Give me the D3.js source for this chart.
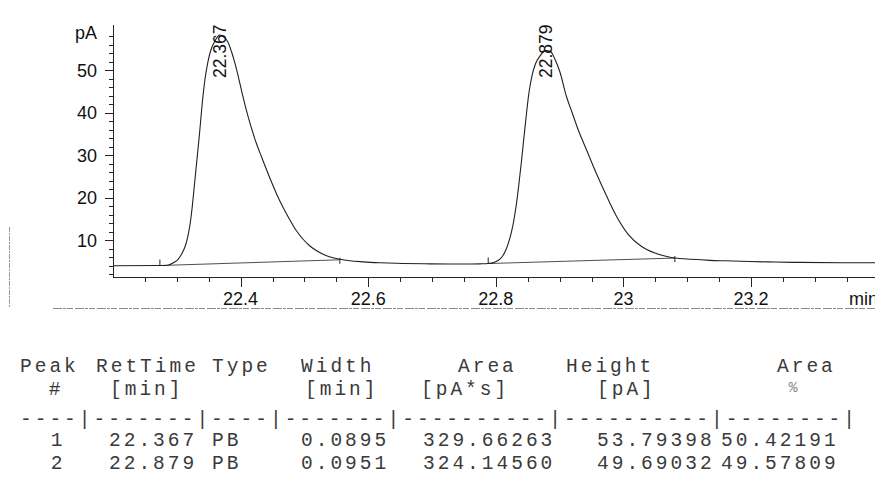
<!DOCTYPE html>
<html>
<head>
<meta charset="utf-8">
<script src="https://cdn.jsdelivr.net/npm/d3@7"></script>
<style>
  html, body { margin: 0; padding: 0; background: #fff; }
  svg { display: block; }
</style>
</head>
<body>
<svg id="chart" width="875" height="481"></svg>
<script>
// FID trace: retention time (min) and detector response (pA)
const signalTime = [
  22.2000, 22.2735, 22.2860, 22.2955, 22.3017, 22.3080, 22.3127, 22.3174,
  22.3213, 22.3245, 22.3276, 22.3315, 22.3354, 22.3401, 22.3440, 22.3487,
  22.3534, 22.3597, 22.3670, 22.3738, 22.3801, 22.3859, 22.3911, 22.3962,
  22.4020, 22.4094, 22.4161, 22.4251, 22.4329, 22.4408, 22.4491, 22.4585,
  22.4679, 22.4773, 22.4867, 22.4976, 22.5086, 22.5212, 22.5337, 22.5462,
  22.5556, 22.5713, 22.5917, 22.6183, 22.6450, 22.6967, 22.7484, 22.7751,
  22.7881, 22.7970, 22.8033, 22.8096, 22.8150, 22.8197, 22.8245, 22.8284,
  22.8323, 22.8362, 22.8401, 22.8440, 22.8480, 22.8519, 22.8566, 22.8621,
  22.8691, 22.8790, 22.8864, 22.8926, 22.9005, 22.9110, 22.9193, 22.9287,
  22.9423, 22.9580, 22.9737, 22.9898, 23.0071, 23.0285, 23.0494, 23.0650,
  23.0807, 23.1069, 23.1356, 23.1591, 23.1983, 23.2375, 23.2767, 23.3425,
  23.4000
];
const signalPA = [
   3.95,  4.00,  4.07,  4.71,  5.41,  6.82,  8.35, 10.94,
  14.24, 18.24, 22.94, 28.82, 34.71, 42.47, 47.65, 51.88,
  54.71, 56.82, 58.24, 57.76, 56.59, 54.24, 51.65, 48.59,
  44.82, 40.35, 36.82, 32.59, 29.53, 26.47, 23.41, 20.12,
  17.29, 14.71, 12.35, 10.24,  8.59,  7.29,  6.35,  5.76,
   5.46,  5.11,  4.87,  4.66,  4.52,  4.40,  4.35,  4.40,
   4.47,  4.71,  5.18,  6.00,  7.41,  9.29, 11.88, 14.71,
  18.47, 23.18, 28.35, 34.00, 39.65, 44.59, 48.59, 51.41,
  53.29, 54.56, 54.24, 52.59, 49.53, 43.65, 40.12, 36.12,
  31.18, 25.53, 20.35, 15.41, 11.41,  8.47,  6.94,  6.24,
   5.76,  5.46,  5.22,  5.11,  4.94,  4.82,  4.73,  4.66,
   4.64
];

// Integration results
const peakNumber  = [1, 2];
const retTime     = [22.367, 22.879];
const peakType    = ["PB", "PB"];
const peakWidth   = ["0.0895", "0.0951"];
const peakArea    = ["329.66263", "324.14560"];
const peakHeight  = ["53.79398", "49.69032"];
const areaPercent = ["50.42191", "49.57809"];

// Integration baselines drawn under each peak
const baseStartTime = [22.2735, 22.7881];
const baseStartPA   = [4.00, 4.47];
const baseEndTime   = [22.5556, 23.0807];
const baseEndPA     = [5.35, 5.76];

// Axis ticks
const xTickValues = [22.4, 22.6, 22.8, 23, 23.2];
const yTickValues = [10, 20, 30, 40, 50];

const svg = d3.select("#chart");
const ink = "#262626";
const sans = "'Liberation Sans', Arial, sans-serif";
const mono = "'Liberation Mono', 'Courier New', monospace";

const plot = { left: 113, top: 25, bottom: 277 };
const x = d3.scaleLinear().domain([22.2, 23.4]).range([plot.left, plot.left + 638 * 1.2]);
const y = d3.scaleLinear().domain([1.3, 60.6]).range([plot.bottom, plot.top]);

// faint frame of the report page
svg.append("line")
  .attr("x1", 9.5).attr("x2", 9.5).attr("y1", 227).attr("y2", 308)
  .attr("stroke", "#9a9a9a").attr("stroke-width", 1).attr("stroke-dasharray", "5 1 2 1");
svg.append("line")
  .attr("x1", 53).attr("x2", 875).attr("y1", 308.5).attr("y2", 308.5)
  .attr("stroke", "#8a8a8a").attr("stroke-width", 1).attr("stroke-dasharray", "9 1 3 1 6 2");

// x axis with 0.05 min minor ticks
const xAxisG = svg.append("g").attr("transform", `translate(0,${plot.bottom})`);
xAxisG.append("line")
  .attr("x1", plot.left).attr("x2", 875).attr("y1", 0.5).attr("y2", 0.5)
  .attr("stroke", ink).attr("stroke-width", 1);
const xMinor = d3.range(22.25, 23.4, 0.05).filter(v => !xTickValues.some(t => Math.abs(t - v) < 1e-6));
xAxisG.selectAll("line.xminor").data(xMinor).join("line")
  .attr("class", "xminor")
  .attr("x1", d => Math.round(x(d)) + 0.5).attr("x2", d => Math.round(x(d)) + 0.5)
  .attr("y1", 0).attr("y2", 5).attr("stroke", ink);
xAxisG.selectAll("line.xmajor").data(xTickValues).join("line")
  .attr("class", "xmajor")
  .attr("x1", d => Math.round(x(d)) + 0.5).attr("x2", d => Math.round(x(d)) + 0.5)
  .attr("y1", 0).attr("y2", 10).attr("stroke", ink);
xAxisG.selectAll("text").data(xTickValues).join("text")
  .attr("x", d => x(d)).attr("y", 28)
  .attr("text-anchor", "middle")
  .attr("font-family", sans).attr("font-size", 18).attr("fill", "#111")
  .text(d => d3.format("~g")(d));
xAxisG.append("text")
  .attr("x", 849).attr("y", 28)
  .attr("font-family", sans).attr("font-size", 18).attr("fill", "#111")
  .text("min");

// y axis with 2 pA minor ticks
const yAxisG = svg.append("g").attr("transform", `translate(${plot.left},0)`);
yAxisG.append("line")
  .attr("x1", 0.5).attr("x2", 0.5).attr("y1", plot.top).attr("y2", plot.bottom)
  .attr("stroke", ink);
const yMinor = d3.range(2, 61, 2).filter(v => v % 10 !== 0);
yAxisG.selectAll("line.yminor").data(yMinor).join("line")
  .attr("class", "yminor")
  .attr("x1", -4).attr("x2", 0)
  .attr("y1", d => Math.round(y(d)) + 0.5).attr("y2", d => Math.round(y(d)) + 0.5)
  .attr("stroke", ink);
yAxisG.selectAll("line.ymajor").data(yTickValues).join("line")
  .attr("class", "ymajor")
  .attr("x1", -8).attr("x2", 0)
  .attr("y1", d => Math.round(y(d)) + 0.5).attr("y2", d => Math.round(y(d)) + 0.5)
  .attr("stroke", ink);
yAxisG.selectAll("text").data(yTickValues).join("text")
  .attr("x", -16).attr("y", d => y(d))
  .attr("dy", "0.36em")
  .attr("text-anchor", "end")
  .attr("font-family", sans).attr("font-size", 18).attr("fill", "#111")
  .text(d => d);
yAxisG.append("text")
  .attr("x", -16).attr("y", 39)
  .attr("text-anchor", "end")
  .attr("font-family", sans).attr("font-size", 18).attr("fill", "#111")
  .text("pA");

// integration baselines with start / end markers
const peaks = peakNumber.map((n, i) => ({
  n, rt: retTime[i],
  t0: baseStartTime[i], v0: baseStartPA[i],
  t1: baseEndTime[i], v1: baseEndPA[i]
}));
svg.selectAll("line.base").data(peaks).join("line")
  .attr("class", "base")
  .attr("x1", d => x(d.t0)).attr("y1", d => y(d.v0))
  .attr("x2", d => x(d.t1)).attr("y2", d => y(d.v1))
  .attr("stroke", "#3a3a3a").attr("stroke-width", 0.9);
svg.selectAll("line.bstart").data(peaks).join("line")
  .attr("class", "bstart")
  .attr("x1", d => x(d.t0)).attr("x2", d => x(d.t0))
  .attr("y1", d => y(d.v0) - 6).attr("y2", d => y(d.v0))
  .attr("stroke", ink);
svg.selectAll("line.bend").data(peaks).join("line")
  .attr("class", "bend")
  .attr("x1", d => x(d.t1)).attr("x2", d => x(d.t1))
  .attr("y1", d => y(d.v1) - 2).attr("y2", d => y(d.v1) + 4)
  .attr("stroke", ink);

// detector trace
const trace = signalTime.map((t, i) => [t, signalPA[i]]);
svg.append("path")
  .datum(trace)
  .attr("fill", "none")
  .attr("stroke", "#202020")
  .attr("stroke-width", 1.1)
  .attr("d", d3.line().x(d => x(d[0])).y(d => y(d[1])).curve(d3.curveMonotoneX));

// retention time labels at the apex
svg.selectAll("text.rt").data(peaks).join("text")
  .attr("class", "rt")
  .attr("transform", d => `translate(${x(d.rt) + 6},78) rotate(-90)`)
  .attr("font-family", sans).attr("font-size", 17.5).attr("fill", "#111")
  .text(d => d3.format(".3f")(d.rt));

// peak report table
const tbl = svg.append("g")
  .attr("font-family", mono).attr("font-size", 19.5).attr("letter-spacing", 3)
  .attr("fill", "#3a3a3a");
const cell = (txt, px, py, anchor) => tbl.append("text")
  .attr("x", px).attr("y", py).attr("text-anchor", anchor || "start")
  .attr("xml:space", "preserve").text(txt);

const head1 = ["Peak", "RetTime", "Type", "Width", "Area", "Height", "Area"];
const head1X = [20, 96, 212, 301, 458, 566, 777];
head1.forEach((h, i) => cell(h, head1X[i], 372));

const head2 = ["#", "[min]", "[min]", "[pA*s]", "[pA]"];
const head2X = [56, 110, 305, 421, 597];
head2.forEach((h, i) => cell(h, head2X[i], 395, i === 0 ? "middle" : "start"));
tbl.append("text").attr("x", 793).attr("y", 392).attr("text-anchor", "middle")
  .attr("font-size", 15).attr("letter-spacing", 0).attr("fill", "#888").text("%");

cell("----|-------|----|-------|----------|----------|--------|", 20, 425);

const colX = [58, 109, 212, 301, 423, 597, 721];
peakNumber.forEach((n, i) => {
  const yy = 446 + i * 23;
  cell(String(n), colX[0], yy, "middle");
  cell(d3.format(".3f")(retTime[i]), colX[1], yy);
  cell(peakType[i], colX[2], yy);
  cell(peakWidth[i], colX[3], yy);
  cell(peakArea[i], colX[4], yy);
  cell(peakHeight[i], colX[5], yy);
  cell(areaPercent[i], colX[6], yy);
});
</script>
</body>
</html>
